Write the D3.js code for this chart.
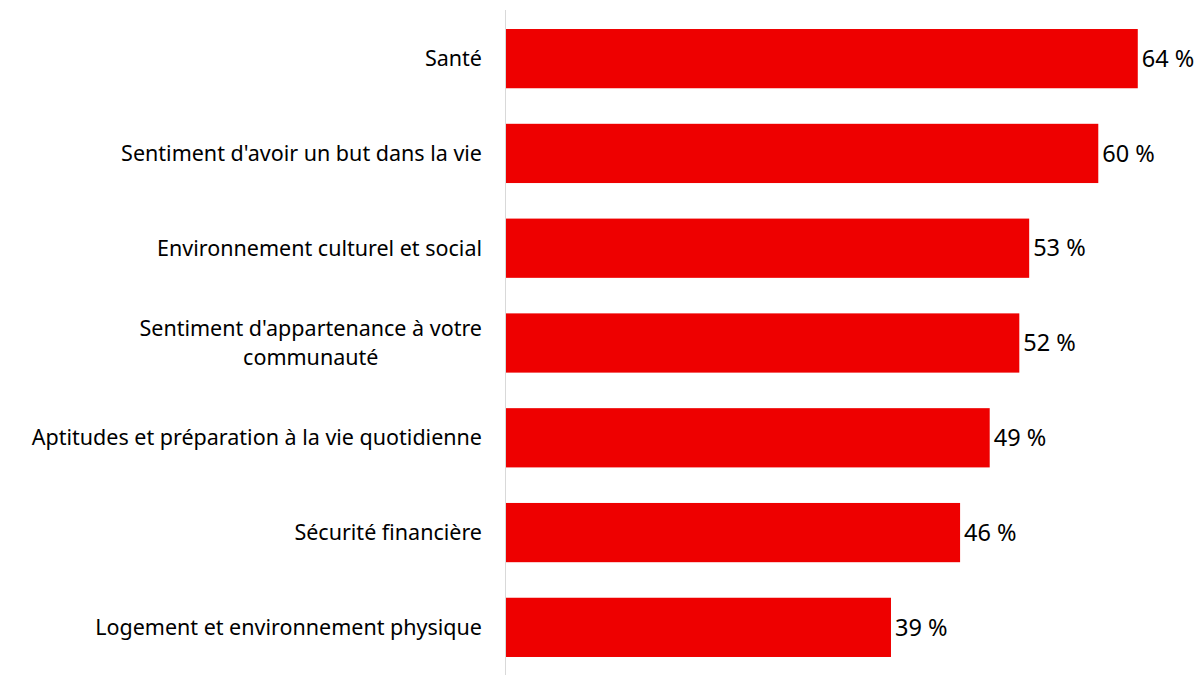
<!DOCTYPE html>
<html>
<head>
<meta charset="utf-8">
<script src="https://cdn.jsdelivr.net/npm/d3@7"></script>
<style>
  body { margin: 0; background: #fff; }
  text { font-family: "Noto Sans", "Open Sans", sans-serif; fill: #000; }
</style>
</head>
<body>
<svg id="chart" width="1200" height="675"></svg>
<script>
var categories = [
  "Santé",
  "Sentiment d'avoir un but dans la vie",
  "Environnement culturel et social",
  "Sentiment d'appartenance à votre communauté",
  "Aptitudes et préparation à la vie quotidienne",
  "Sécurité financière",
  "Logement et environnement physique"
];
var values = [64, 60, 53, 52, 49, 46, 39];

// long labels get wrapped on two lines like in the original
var labelLines = [
  ["Santé"],
  ["Sentiment d'avoir un but dans la vie"],
  ["Environnement culturel et social"],
  ["Sentiment d'appartenance à votre", "communauté"],
  ["Aptitudes et préparation à la vie quotidienne"],
  ["Sécurité financière"],
  ["Logement et environnement physique"]
];

var svg = d3.select("#chart");
var x0 = 506;

var x = d3.scaleLinear()
    .domain([0, 70])
    .range([x0, x0 + 691]);

var y = d3.scaleBand()
    .domain(categories)
    .range([11, 675])
    .paddingInner(0.375)
    .paddingOuter(0.19);

// axis line
svg.append("line")
    .attr("x1", x0 - 0.5).attr("x2", x0 - 0.5)
    .attr("y1", 10).attr("y2", 675)
    .attr("stroke", "#d9d9d9")
    .attr("stroke-width", 1);

var bar = svg.selectAll("g.bar")
    .data(values)
  .enter().append("g")
    .attr("class", "bar");

bar.append("rect")
    .attr("x", x(0))
    .attr("y", function(d, i) { return y(categories[i]); })
    .attr("width", function(d) { return x(d) - x(0); })
    .attr("height", y.bandwidth())
    .attr("fill", "#ee0000");

bar.append("text")
    .attr("x", function(d) { return x(d) + 4; })
    .attr("y", function(d, i) { return y(categories[i]) + y.bandwidth() / 2; })
    .attr("dy", ".35em")
    .style("font-size", "23.5px")
    .text(function(d) { return d + " %"; });

// category labels, wrapped lines are centred on the widest one
var lab = svg.selectAll("g.cat")
    .data(categories)
  .enter().append("g")
    .attr("class", "cat")
    .attr("transform", function(d) {
      return "translate(482," + (y(d) + y.bandwidth() / 2) + ")"; });

lab.each(function(d, i) {
  var lines = labelLines[i];
  var g = d3.select(this);
  var texts = lines.map(function(l, j) {
    return g.append("text")
      .attr("y", (j - (lines.length - 1) / 2) * 29)
      .attr("dy", ".35em")
      .style("font-size", "21.5px")
      .text(l);
  });
  var w = d3.max(texts, function(t) { return t.node().getComputedTextLength(); });
  texts.forEach(function(t) {
    t.attr("text-anchor", "middle").attr("x", -w / 2);
  });
});
</script>
</body>
</html>
